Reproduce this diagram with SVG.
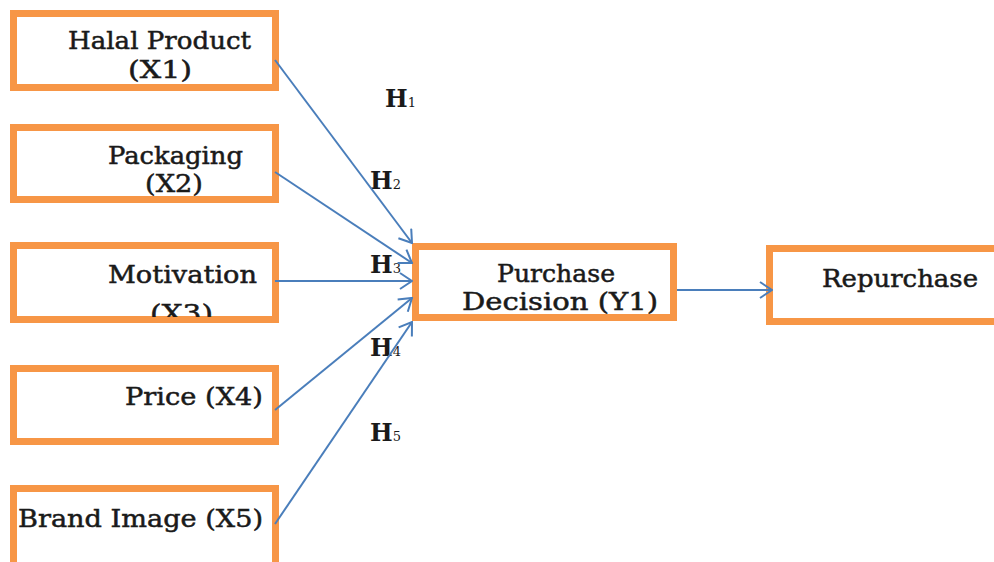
<svg xmlns="http://www.w3.org/2000/svg" width="994" height="562" viewBox="0 0 994 562">
<style>
.box{fill:#fff;stroke:#F79646;stroke-width:7}
.t{font-family:"DejaVu Serif","Liberation Serif",serif;font-size:24px;fill:#1a1a1a;stroke:#1a1a1a;stroke-width:0.5}
.h{font-family:"DejaVu Serif","Liberation Serif",serif;font-size:24px;font-weight:bold;fill:#1a1a1a}
.sub{font-size:13px;font-weight:normal}
.c{stroke:#4A7EBB;stroke-width:2;fill:none}
</style>
<defs>
<marker id="arr" viewBox="0 0 14 18" refX="13" refY="9" markerWidth="14" markerHeight="18" markerUnits="userSpaceOnUse" orient="auto">
<path d="M1,1 L13,9 L1,17" fill="none" stroke="#4A7EBB" stroke-width="2"/>
</marker>
<clipPath id="clipX3"><rect x="17" y="249" width="255" height="68"/></clipPath>
</defs>
<rect width="994" height="562" fill="#fff"/>
<g id="labels">
<text class="h" x="385" y="107">H<tspan class="sub">1</tspan></text>
<text class="h" x="370" y="189">H<tspan class="sub">2</tspan></text>
<text class="h" x="370" y="273">H<tspan class="sub">3</tspan></text>
<text class="h" x="370" y="356">H<tspan class="sub">4</tspan></text>
<text class="h" x="370" y="441">H<tspan class="sub">5</tspan></text>
</g>
<g id="x1">
<rect class="box" x="13.5" y="13.5" width="262" height="74"/>
<text class="t" x="68" y="49" textLength="183" lengthAdjust="spacingAndGlyphs">Halal Product</text>
<text class="t" x="128" y="78" textLength="64" lengthAdjust="spacingAndGlyphs">(X1)</text>
</g>
<g id="x2">
<rect class="box" x="13.5" y="127.5" width="262" height="72"/>
<text class="t" x="108" y="164" textLength="135" lengthAdjust="spacingAndGlyphs">Packaging</text>
<text class="t" x="145" y="192" textLength="58" lengthAdjust="spacingAndGlyphs">(X2)</text>
</g>
<g id="x3">
<rect class="box" x="13.5" y="245.5" width="262" height="74"/>
<text class="t" x="108" y="283" textLength="149" lengthAdjust="spacingAndGlyphs">Motivation</text>
<text class="t" x="150" y="322" textLength="63" lengthAdjust="spacingAndGlyphs" clip-path="url(#clipX3)">(X3)</text>
</g>
<g id="x4">
<rect class="box" x="13.5" y="368.5" width="262" height="73"/>
<text class="t" x="125" y="405" textLength="138" lengthAdjust="spacingAndGlyphs">Price (X4)</text>
</g>
<g id="x5">
<rect class="box" x="13.5" y="488.5" width="262" height="80"/>
<text class="t" x="18" y="527" textLength="245" lengthAdjust="spacingAndGlyphs">Brand Image (X5)</text>
</g>
<g id="y1">
<rect class="box" x="415.5" y="246.5" width="258" height="71"/>
<text class="t" x="497" y="282" textLength="118" lengthAdjust="spacingAndGlyphs">Purchase</text>
<text class="t" x="462" y="310" textLength="196" lengthAdjust="spacingAndGlyphs">Decision  (Y1)</text>
</g>
<g id="repurchase">
<rect class="box" x="769.5" y="248.5" width="240" height="73"/>
<text class="t" x="822" y="287" textLength="156" lengthAdjust="spacingAndGlyphs">Repurchase</text>
</g>
<g id="connectors">
<line class="c" x1="275" y1="60" x2="412" y2="243" marker-end="url(#arr)"/>
<line class="c" x1="275" y1="172" x2="412" y2="263" marker-end="url(#arr)"/>
<line class="c" x1="275" y1="281" x2="412" y2="281" marker-end="url(#arr)"/>
<line class="c" x1="275" y1="410" x2="412" y2="298" marker-end="url(#arr)"/>
<line class="c" x1="275" y1="524" x2="412" y2="322" marker-end="url(#arr)"/>
<line class="c" x1="677" y1="290" x2="772" y2="290" marker-end="url(#arr)"/>
</g>
</svg>
